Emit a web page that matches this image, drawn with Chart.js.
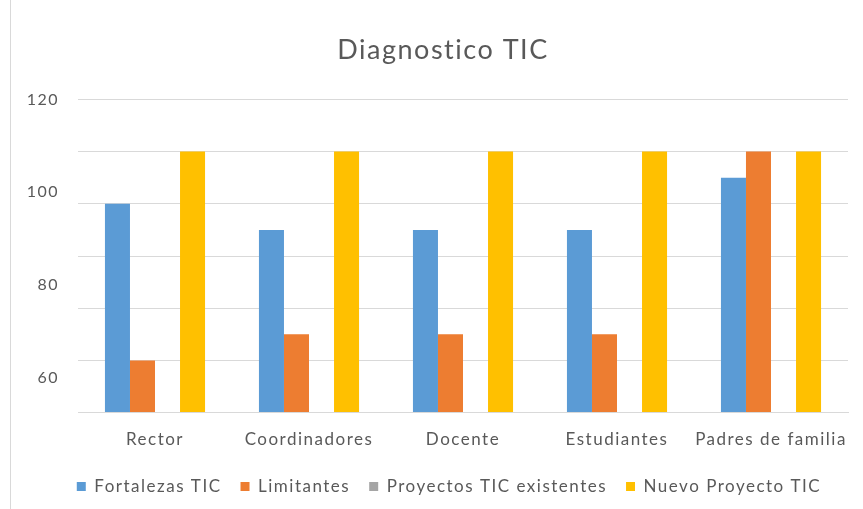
<!DOCTYPE html>
<html>
<head>
<meta charset="utf-8">
<script src="https://cdn.jsdelivr.net/npm/chart.js@4"></script>
<style>
  html, body { margin: 0; padding: 0; background: #fff; }
  #wrap { position: relative; width: 863px; height: 509px; }
  #wrap::before { content: ''; position: absolute; left: 10px; top: 0; bottom: 0; border-left: 1px solid #d9d9d9; }
  canvas { position: relative; }
</style>
</head>
<body>
<div id="wrap"><canvas id="diagChart" width="863" height="509"></canvas></div>
<script>
const categories = ['Rector', 'Coordinadores', 'Docente', 'Estudiantes', 'Padres de familia'];
const fortalezas = [80, 70, 70, 70, 90];
const limitantes = [20, 30, 30, 30, 100];
const proyectosExistentes = [null, null, null, null, null];
const nuevoProyecto = [100, 100, 100, 100, 100];
const axisLabels = [60, 80, 100, 120];

const textColor = '#595959';
const fontFamily = 'Lato, "Liberation Sans", sans-serif';

// Excel-like wide text spacing, title and legend nudged right like the original
const spacingPlugin = {
    id: 'spacing',
    beforeLayout(chart) { chart.ctx.letterSpacing = '1.5px'; },
    afterLayout(chart) {
        if (chart.titleBlock) {
            chart.titleBlock.left += 8;
            chart.titleBlock.right += 8;
        }
        if (chart.legend) {
            chart.legend.left += 14;
            chart.legend.right += 14;
        }
    },
    beforeDraw(chart) { chart.ctx.letterSpacing = '1.5px'; }
};

document.addEventListener('DOMContentLoaded', function() {
    const ctx = document.getElementById('diagChart');
    new Chart(ctx, {
        type: 'bar',
        data: {
            labels: categories,
            datasets: [
                { label: 'Fortalezas TIC', data: fortalezas, backgroundColor: '#5b9bd5', yAxisID: 'y' },
                { label: 'Limitantes', data: limitantes, backgroundColor: '#ed7d31', yAxisID: 'y' },
                { label: 'Proyectos TIC existentes', data: proyectosExistentes, backgroundColor: '#a5a5a5', yAxisID: 'y' },
                { label: 'Nuevo Proyecto TIC', data: nuevoProyecto, backgroundColor: '#ffc000', yAxisID: 'y' }
            ]
        },
        plugins: [spacingPlugin],
        options: {
            responsive: false,
            animation: false,
            categoryPercentage: 0.65,
            barPercentage: 1.0,
            layout: { padding: { left: 22, right: 15, top: 0, bottom: 4 } },
            plugins: {
                title: {
                    display: true,
                    text: 'Diagnostico TIC',
                    color: textColor,
                    font: { family: fontFamily, size: 27, weight: 'normal' },
                    padding: { top: 34, bottom: 33 }
                },
                legend: {
                    position: 'bottom',
                    labels: {
                        color: textColor,
                        font: { family: fontFamily, size: 17 },
                        boxWidth: 9,
                        boxHeight: 9,
                        padding: 19
                    }
                },
                tooltip: { enabled: false }
            },
            scales: {
                x: {
                    grid: { display: false },
                    border: { color: '#d9d9d9' },
                    ticks: { color: textColor, font: { family: fontFamily, size: 17 }, padding: 9, maxRotation: 0, autoSkip: false }
                },
                yLabels: {
                    position: 'left',
                    min: 52.4,
                    max: 120,
                    grid: { display: false, drawTicks: false },
                    border: { display: false },
                    afterBuildTicks: function(axis) {
                        axis.ticks = axisLabels.map(v => ({ value: v }));
                    },
                    afterFit: function(axis) { axis.width = 56; },
                    ticks: { color: textColor, font: { family: fontFamily, size: 16 }, padding: 19 }
                },
                y: {
                    position: 'left',
                    min: 0,
                    max: 120,
                    ticks: { display: false, stepSize: 20 },
                    grid: { color: '#d9d9d9', drawTicks: false },
                    border: { display: false },
                    afterFit: function(axis) { axis.width = 0; }
                }
            }
        }
    });
});
</script>
</body>
</html>
